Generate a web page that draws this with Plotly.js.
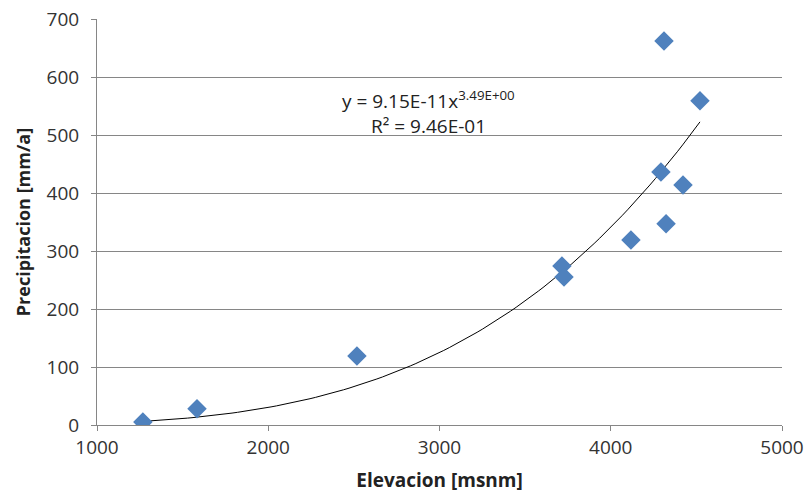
<!DOCTYPE html>
<html>
<head>
<meta charset="utf-8">
<script src="https://cdn.plot.ly/plotly-3.0.1.min.js"></script>
<style>html,body{margin:0;padding:0;background:#fff;}#chart{width:809px;height:493px;}</style>
</head>
<body>
<div id="chart"></div>
<script>
const elevacion = [1268, 1584, 2518, 3715, 3727, 4118, 4293, 4311, 4323, 4422, 4521];
const precipitacion = [5, 28, 119, 274, 255, 319, 436, 662, 347, 414, 559];

// Power trendline coefficients as printed on the chart
const trendA = 9.15e-11;
const trendB = 3.49;
const eqText = "y = 9.15E-11x<sup>3.49E+00</sup>";
const r2Text = "R² = 9.46E-01";

const xTicks = [1000, 2000, 3000, 4000, 5000];
const yTicks = [0, 100, 200, 300, 400, 500, 600, 700];

// Trendline sampled over the data range
const xMin = Math.min(...elevacion), xMax = Math.max(...elevacion);
const tx = [], ty = [];
for (let i = 0; i <= 100; i++) {
  const x = xMin + (xMax - xMin) * i / 100;
  tx.push(x);
  ty.push(trendA * Math.pow(x, trendB));
}

const font = "Open Sans, Lato, sans-serif";
const data = [
  {x: tx, y: ty, mode: "lines", line: {color: "#000", width: 1}, hoverinfo: "skip"},
  {x: elevacion, y: precipitacion, mode: "markers", type: "scatter",
   marker: {symbol: "diamond", size: 15, color: "#4F81BD"}}
];

const layout = {
  width: 809, height: 493,
  margin: {l: 97, r: 27, t: 19, b: 68},
  paper_bgcolor: "#fff", plot_bgcolor: "#fff",
  showlegend: false,
  font: {family: font, size: 19, color: "#333"},
  xaxis: {
    range: [1000, 5000], tickvals: xTicks, ticktext: xTicks.map(String),
    showgrid: false, zeroline: false, showline: true, linecolor: "#868686", linewidth: 1,
    ticks: "outside", ticklen: 5, tickcolor: "#868686",
    tickfont: {family: font, size: 19, color: "#333"},
    title: {text: "<b>Elevacion [msnm]</b>", font: {family: font, size: 19, color: "#222"}, standoff: 16}
  },
  yaxis: {
    range: [0, 700], tickvals: yTicks, ticktext: yTicks.map(String),
    showgrid: true, gridcolor: "#868686", gridwidth: 1,
    zeroline: false, showline: true, linecolor: "#868686", linewidth: 1,
    ticks: "outside", ticklen: 5, tickcolor: "#868686",
    ticklabelstandoff: 8,
    tickfont: {family: font, size: 19, color: "#333"},
    title: {text: "<b>Precipitacion [mm/a]</b>", font: {family: font, size: 18, color: "#222"}, standoff: 11}
  },
  annotations: [
    {xref: "paper", yref: "paper", x: (428 - 97) / 685, y: (425 - 100) / 406, text: eqText,
     showarrow: false, xanchor: "center", yanchor: "middle", font: {family: font, size: 19, color: "#222"}},
    {xref: "paper", yref: "paper", x: (428 - 97) / 685, y: (425 - 126) / 406, text: r2Text,
     showarrow: false, xanchor: "center", yanchor: "middle", font: {family: font, size: 19, color: "#222"}}
  ]
};

Plotly.newPlot("chart", data, layout, {displayModeBar: false, staticPlot: true});
</script>
</body>
</html>
